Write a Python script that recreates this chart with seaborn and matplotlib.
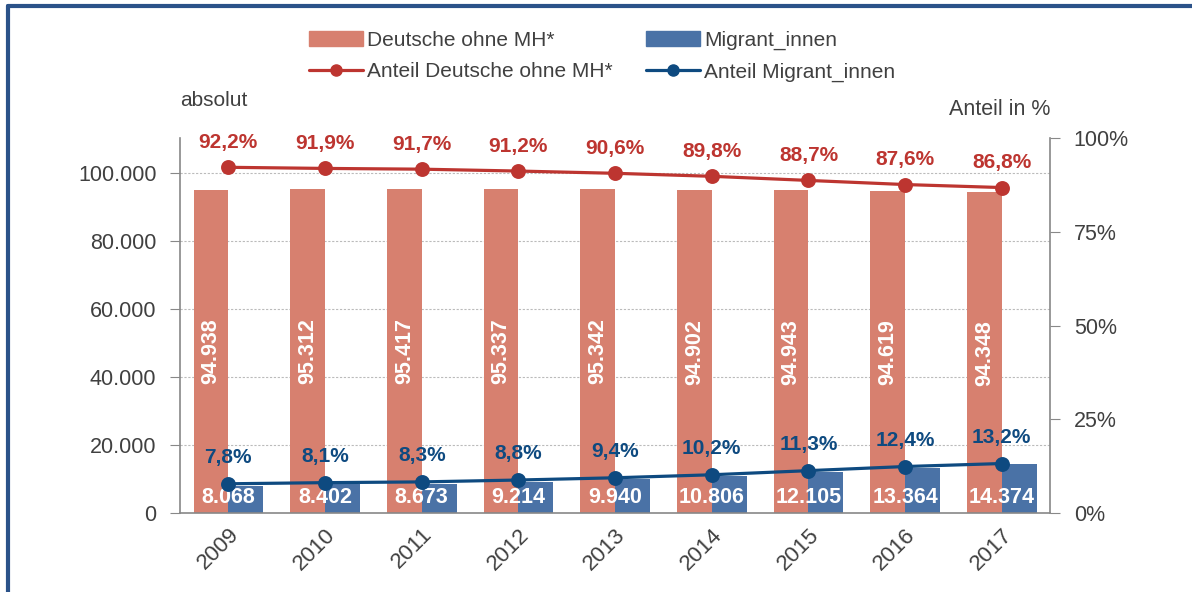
import numpy as np
import pandas as pd
import seaborn as sns
import matplotlib.pyplot as plt
from matplotlib.patches import Patch
from matplotlib.lines import Line2D
from matplotlib.ticker import FuncFormatter, FixedLocator

# Daten
jahre = ["2009", "2010", "2011", "2012", "2013", "2014", "2015", "2016", "2017"]
deutsche = [94938, 95312, 95417, 95337, 95342, 94902, 94943, 94619, 94348]
migrant = [8068, 8402, 8673, 9214, 9940, 10806, 12105, 13364, 14374]
anteil_deutsche = [92.2, 91.9, 91.7, 91.2, 90.6, 89.8, 88.7, 87.6, 86.8]
anteil_migrant = [7.8, 8.1, 8.3, 8.8, 9.4, 10.2, 11.3, 12.4, 13.2]

serien = ["Deutsche ohne MH*", "Migrant_innen"]
anteile = ["Anteil Deutsche ohne MH*", "Anteil Migrant_innen"]

c_bar_d = "#D7806F"
c_bar_m = "#4A72A6"
c_lin_d = "#BD3530"
c_lin_m = "#0E4A80"
c_text = "#404040"

absolut = pd.DataFrame({
    "jahr": jahre * 2,
    "wert": deutsche + migrant,
    "gruppe": [serien[0]] * len(jahre) + [serien[1]] * len(jahre),
})
anteil = pd.DataFrame({
    "jahr": jahre * 2,
    "wert": anteil_deutsche + anteil_migrant,
    "gruppe": [anteile[0]] * len(jahre) + [anteile[1]] * len(jahre),
})

def de_zahl(v):
    return f"{v:,.0f}".replace(",", ".")

def de_proz(v):
    return f"{v:.1f}%".replace(".", ",")

sns.set_style("white")
plt.rcParams["font.family"] = ["Liberation Sans", "DejaVu Sans"]

fig = plt.figure(figsize=(11.92, 5.92), dpi=100)
ax = fig.add_axes([0.151, 0.1334, 0.730, 0.6334])

sns.barplot(data=absolut, x="jahr", y="wert", hue="gruppe", ax=ax,
            palette=[c_bar_d, c_bar_m], width=0.72, gap=0, saturation=1,
            linewidth=0, legend=False)
ax.set_ylim(0, 110300)
ax.set_xlim(-0.5, len(jahre) - 0.5)
ax.set_axisbelow(True)
ax.yaxis.grid(True, color="#BBBBBB", linestyle=(0, (2, 1.5)), linewidth=0.8)
ax.set_yticks(range(0, 100001, 20000))
ax.yaxis.set_major_formatter(FuncFormatter(lambda v, p: de_zahl(v)))
ax.set_xlabel("")
ax.set_ylabel("")

# Werte in den Balken
for i in range(len(jahre)):
    ax.text(i - 0.18, deutsche[i] / 2, de_zahl(deutsche[i]), rotation=90,
            ha="center", va="center", color="white", fontsize=15.5, fontweight="bold")
    ax.text(i, 4700, de_zahl(migrant[i]), ha="center", va="center",
            color="white", fontsize=15.5, fontweight="bold")

ax2 = ax.twinx()
sns.pointplot(data=anteil, x="jahr", y="wert", hue="gruppe", ax=ax2,
              palette=[c_lin_d, c_lin_m], markers="o", markersize=9,
              linewidth=2.3, errorbar=None, dodge=False, legend=False)
ax2.set_ylim(0, 100)
ax2.set_xlim(-0.5, len(jahre) - 0.5)
ax2.set_yticks([0, 25, 50, 75, 100])
ax2.yaxis.set_major_formatter(FuncFormatter(lambda v, p: f"{v:.0f}%"))
ax2.set_ylabel("")
ax2.set_xlabel("")

for i in range(len(jahre)):
    ax2.annotate(de_proz(anteil_deutsche[i]), (i, anteil_deutsche[i]),
                 xytext=(0, 11), textcoords="offset points", ha="center",
                 va="bottom", color=c_lin_d, fontsize=15, fontweight="bold")
    ax2.annotate(de_proz(anteil_migrant[i]), (i, anteil_migrant[i]),
                 xytext=(0, 12), textcoords="offset points", ha="center",
                 va="bottom", color=c_lin_m, fontsize=15, fontweight="bold")

# Achsen
for a in (ax, ax2):
    for s in a.spines.values():
        s.set_visible(False)
ax.spines["left"].set_visible(True)
ax.spines["bottom"].set_visible(True)
ax2.spines["right"].set_visible(True)
for s in (ax.spines["left"], ax.spines["bottom"], ax2.spines["right"]):
    s.set_color("#888888")
    s.set_linewidth(1.2)

ax.xaxis.set_major_locator(FixedLocator(range(len(jahre))))
ax.set_xticklabels(jahre, rotation=45, ha="right", rotation_mode="anchor")
ax.xaxis.set_minor_locator(FixedLocator(np.arange(-0.5, len(jahre), 1.0)))
ax.tick_params(axis="x", which="major", length=0, pad=8, labelsize=16,
               labelcolor=c_text)
ax.tick_params(axis="x", which="minor", length=6, color="#888888", direction="out")
ax.tick_params(axis="y", length=7, color="#888888", direction="out", pad=10,
               labelsize=15.5, labelcolor=c_text, left=True)
ax2.tick_params(axis="y", length=7, color="#888888", direction="out", pad=10,
                labelsize=15.5, labelcolor=c_text, right=True)

ax.text(0.0, 1.10, "absolut", transform=ax.transAxes, ha="left", va="center",
        fontsize=15, color=c_text)
ax.text(1.0, 1.075, "Anteil in %", transform=ax.transAxes, ha="right",
        va="center", fontsize=15.5, color=c_text)

handles = [
    Patch(color=c_bar_d, label=serien[0]),
    Line2D([], [], color=c_lin_d, marker="o", markersize=8, linewidth=2.3,
           label=anteile[0]),
    Patch(color=c_bar_m, label=serien[1]),
    Line2D([], [], color=c_lin_m, marker="o", markersize=8, linewidth=2.3,
           label=anteile[1]),
]
leg = fig.legend(handles=handles, ncol=2, loc="center", bbox_to_anchor=(0.505, 0.905),
                 frameon=False, fontsize=15, handlelength=2.6, handletextpad=0.2,
                 columnspacing=1.6, labelspacing=0.6)
for t in leg.get_texts():
    t.set_color(c_text)

# Rahmen links und oben
fig.add_artist(Line2D([0.0068, 0.0068], [0, 0.99], color="#2B5289", linewidth=3,
                      transform=fig.transFigure))
fig.add_artist(Line2D([0.0068, 1.0], [0.99, 0.99], color="#2B5289", linewidth=3,
                      transform=fig.transFigure))

fig.savefig("out.png", dpi=100)
